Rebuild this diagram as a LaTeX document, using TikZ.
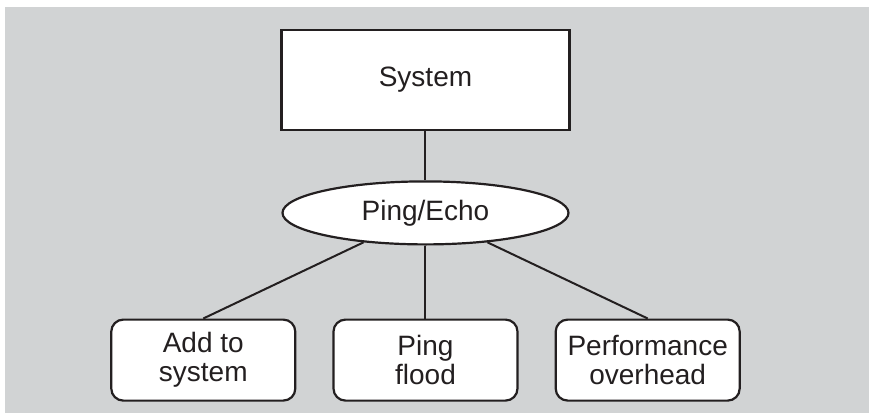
\documentclass[tikz,border=0pt]{standalone}
\usepackage{fontspec}
\setmainfont{Liberation Sans}
\usetikzlibrary{positioning, shapes.geometric}

\definecolor{bggray}{HTML}{D1D3D4}
\definecolor{inkgray}{HTML}{231F20}

\begin{document}
\begin{tikzpicture}[
    line width=1pt, draw=inkgray, text=inkgray,
    font=\fontsize{14}{14.5}\selectfont,
    sysbox/.style={draw, line width=1.3pt, fill=white, minimum width=144pt, minimum height=50pt, align=center},
    probe/.style={draw, ellipse, line width=1.1pt, fill=white, minimum width=143pt, minimum height=31.5pt, inner sep=0pt},
    leafbox/.style={draw, line width=1.1pt, rounded corners=6pt, fill=white, minimum width=92pt, minimum height=40.5pt, align=center, inner sep=1pt}
]
    \fill[bggray] (-210.25pt,36.5pt) rectangle (221.75pt,-166.5pt);
    \useasboundingbox (-212.75pt,40pt) rectangle (221.75pt,-166.5pt);

    \node[sysbox] (system) {System};
    \node[probe, below=24.5pt of system] (ping) {Ping/Echo};

    \node[leafbox, below=36.5pt of ping] (flood) {Ping\\flood};
    \node[leafbox, left=18pt of flood] (add) {Add to\\system};
    \node[leafbox, right=18pt of flood] (perf) {Performance\\overhead};

    \draw (system) -- (ping);
    \draw (ping) -- (add.north);
    \draw (ping) -- (flood);
    \draw (ping) -- (perf.north);
\end{tikzpicture}
\end{document}
